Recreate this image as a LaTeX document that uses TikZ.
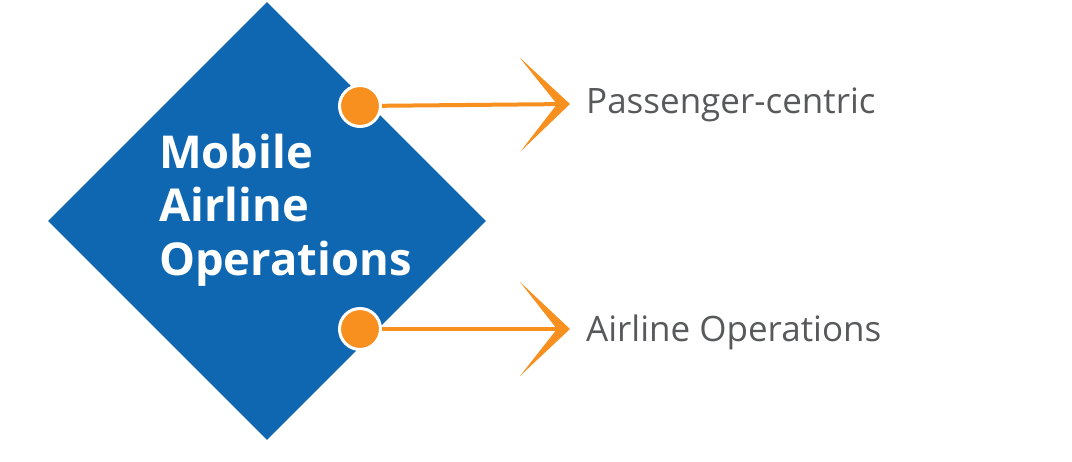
\documentclass[tikz,border=0pt]{standalone}
\usepackage{fontspec}
\setmainfont{Open Sans}
\usepackage{tikz}
\usetikzlibrary{arrows.meta,shapes.geometric}
\definecolor{navy}{HTML}{1067B1}
\definecolor{amber}{HTML}{F7901E}
\definecolor{slate}{HTML}{58595B}
\tikzset{>=Stealth,
  blk/.style={diamond,fill=navy,inner sep=0pt,minimum width=438pt,minimum height=438pt},
  dot/.style={circle,fill=amber,draw=white,line width=3pt,minimum size=41pt,inner sep=0pt},
  link/.style={draw=amber,line width=4pt,-{Stealth[length=50pt,width=94pt,inset=37pt,line width=0pt]}},
  ttl/.style={text=white,font=\bfseries\fontsize{45.3}{53.5}\selectfont,align=left,inner sep=0pt},
  lab/.style={text=slate,font=\fontsize{35}{40}\selectfont,inner sep=0pt}}

\begin{document}
\begin{tikzpicture}[x=1pt,y=-1pt]
  \useasboundingbox (0,0) rectangle (1072,461);
  \node[blk] (core) at (267,221) {};
  \node[ttl,anchor=base west] (name) at (159,275) {Mobile\\Airline\\Operations};
  \node[dot] (dA) at (360,106) {};
  \node[dot] (dB) at (360,329) {};
  \coordinate (tipA) at (570,104);
  \coordinate (tipB) at (570,329);
  \draw[link] (dA) -- (tipA);
  \draw[link] (dB) -- (tipB);
  \node[lab,anchor=base west] (pc) at (586,113) {Passenger-centric};
  \node[lab,anchor=base west] (ao) at (586,341) {Airline Operations};
\end{tikzpicture}
\end{document}
